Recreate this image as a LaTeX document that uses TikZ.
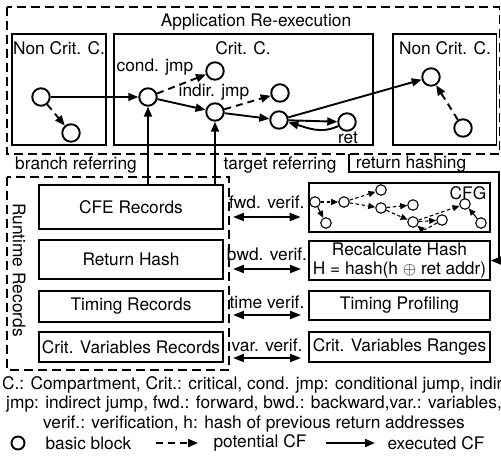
\documentclass[tikz,border=0pt]{standalone}
\usepackage{fontspec}
\setmainfont{TeX Gyre Heros}
\usetikzlibrary{arrows.meta}

\begin{document}
\begin{tikzpicture}[x=1pt, y=-1pt]

  \tikzstyle{every node} = [font=\fontsize{17.3}{19.5}\selectfont]
  \tikzstyle{region} = [line width=1.9, dash pattern=on 9pt off 5pt]
  \tikzstyle{comp} = [line width=1.9]
  \tikzstyle{rec} = [draw, line width=1.9, inner sep=2pt]
  \tikzstyle{bb} = [draw, circle, line width=1.9, minimum size=17.5pt, inner sep=0]
  \tikzstyle{exe} = [line width=1.9, -{Triangle[length=10pt,width=8pt]}]
  \tikzstyle{pot} = [exe, dash pattern=on 7pt off 5pt]
  \tikzstyle{verif} = [line width=1.9, {Triangle[length=11pt,width=8pt]}-{Triangle[length=11pt,width=8pt]}]
  \tikzstyle{cfn} = [draw, circle, line width=1.1, minimum size=10.5pt, inner sep=0]
  \tikzstyle{cfx} = [line width=1.1, -{Triangle[length=7pt,width=6pt]}]
  \tikzstyle{cfp} = [cfx, dash pattern=on 3.5pt off 2.5pt]

  \useasboundingbox (0,0) rectangle (501,459);

  % application re-execution
  \draw[region] (7,7) rectangle (499.5,154);
  \node (apptitle) at (256,22) {Application Re-execution};

  \draw[comp] (12,34) rectangle (106,145);
  \draw[comp] (114,34) rectangle (373,145);
  \draw[comp] (393,34) rectangle (496.5,145);
  \node (ncleft) at (59,48) {Non Crit. C.};
  \node (critc) at (243,48) {Crit. C.};
  \node (ncright) at (445,48) {Non Crit. C.};

  \node[bb] (l1) at (41,97) {};
  \node[bb] (l2) at (71,133) {};
  \node[bb] (c1) at (148,97) {};
  \node[bb] (c2) at (215,71) {};
  \node[bb] (c3) at (215,112) {};
  \node[bb] (c4) at (280,93) {};
  \node[bb] (c5) at (279,120) {};
  \node[bb] (ret) at (347,122) {};
  \node[bb] (r1) at (431,77) {};
  \node[bb] (r2) at (463,128) {};

  \node (condjmp) at (155,67) {cond. jmp};
  \node (indirjmp) at (214,92) {indir. jmp};
  \node (retlabel) at (348,138) {ret};

  \draw[pot] (l1) -- (l2);
  \draw[exe] (l1) -- (c1);
  \draw[pot] (c1) -- (c2);
  \draw[exe] (c1) -- (c3);
  \draw[pot] (c3) -- (c4);
  \draw[exe] (c3) -- (c5);
  \draw[exe] (c5) -- (ret);
  \draw[exe] (ret) to[out=205, in=-15] (c5);
  \draw[exe] (c5) -- (r1);
  \draw[pot] (r2) -- (r1);

  \node (branchref) at (76,165) {branch referring};
  \node (targetref) at (280,165) {target referring};
  \node (rethashing) at (411,164) {return hashing};

  % runtime records
  \draw[region] (7,177) rectangle (229,370);
  \node[rotate=-90] (rtrec) at (19,270) {Runtime Records};

  \node[rec, minimum width=184pt, minimum height=44pt] (cferec) at (131,207) {CFE Records};
  \node[rec, minimum width=184pt, minimum height=39pt] (rethash) at (131,259.5) {Return Hash};
  \node[rec, minimum width=184pt, minimum height=31pt] (timrec) at (131,306.5) {Timing Records};
  \node[rec, minimum width=184pt, minimum height=30pt] (varrec) at (131,347) {Crit. Variables Records};

  \node[rec, line width=2.7, minimum width=181pt, minimum height=49pt] (cfg) at (399.5,207.5) {};
  \node[rec, align=center, inner sep=1pt, minimum width=181pt, minimum height=39pt] (recalc) at (399.5,260.5) {Recalculate Hash\\H = hash(h $\oplus$ ret addr)};
  \node[rec, minimum width=181pt, minimum height=29pt] (timprof) at (399.5,305.5) {Timing Profiling};
  \node[rec, minimum width=181pt, minimum height=30pt] (varrng) at (399.5,347) {Crit. Variables Ranges};

  \draw[exe] (cferec.north -| c1) -- (c1);
  \draw[exe] (cferec.north -| c3) -- (c3);

  \draw[verif] ([xshift=9pt,yshift=-10pt]cferec.east) -- ([xshift=-7pt,yshift=-10pt]cferec.east -| cfg.west) node[midway, above=4pt] {fwd. verif.};
  \draw[verif] ([xshift=9pt,yshift=-9.5pt]rethash.east) -- ([xshift=-7pt,yshift=-9.5pt]rethash.east -| recalc.west) node[midway, above=4pt] {bwd. verif.};
  \draw[verif] ([xshift=9pt,yshift=-8.5pt]timrec.east) -- ([xshift=-7pt,yshift=-8.5pt]timrec.east -| timprof.west) node[midway, above=2pt] {time verif.};
  \draw[verif] ([xshift=9pt,yshift=-11pt]varrec.east) -- ([xshift=-7pt,yshift=-11pt]varrec.east -| varrng.west) node[midway, above=2pt] {var. verif.};

  \coordinate (rhstart) at (349,154);
  \draw[exe] (rhstart) |- (499,172) |- (recalc.east);

  % small cfg
  \node[cfn] (ga) at (315,202) {};
  \node[cfn] (gb) at (326,223) {};
  \node[cfn] (gc) at (344,202) {};
  \node[cfn] (gd) at (381,190) {};
  \node[cfn] (ge) at (381,208) {};
  \node[cfn] (gf) at (413,205) {};
  \node[cfn] (gg) at (413,222) {};
  \node[cfn] (gh) at (442,220) {};
  \node[cfn] (gi) at (465,204) {};
  \node[cfn] (gj) at (481,223) {};
  \node (cfglabel) at (468,193) {CFG};

  \draw[cfx] (ga) -- (gb);
  \draw[cfp] (ga) -- (gc);
  \draw[cfp] (gc) -- (gd);
  \draw[cfp] (gc) -- (ge);
  \draw[cfp] (ge) -- (gf);
  \draw[cfp] (ge) -- (gg);
  \draw[cfp] (gg) -- (gh);
  \draw[cfp] (gh) to[out=-150, in=-40] (gg);
  \draw[cfp] (gg) -- (gi);
  \draw[cfx] (gj) -- (gi);

  % abbreviations and legend
  \node[align=center] (abbrev) at (254,404) {C.: Compartment, Crit.: critical, cond. jmp: conditional jump, indir.\\jmp: indirect jump, fwd.: forward, bwd.: backward,var.: variables,\\verif.: verification, h: hash of previous return addresses};

  \node[bb, minimum size=13pt] (lgbb) at (18,443) {};
  \node[anchor=west] (lgbbt) at (42,443) {basic block};
  \coordinate (lgpa) at (156,443);
  \coordinate (lgpb) at (198,443);
  \draw[pot] (lgpa) -- (lgpb);
  \node[anchor=west] (lgpot) at (210,443) {potential CF};
  \coordinate (lgea) at (326,443);
  \coordinate (lgeb) at (375,443);
  \draw[exe] (lgea) -- (lgeb);
  \node[anchor=west] (lgexe) at (384,443) {executed CF};

\end{tikzpicture}
\end{document}
